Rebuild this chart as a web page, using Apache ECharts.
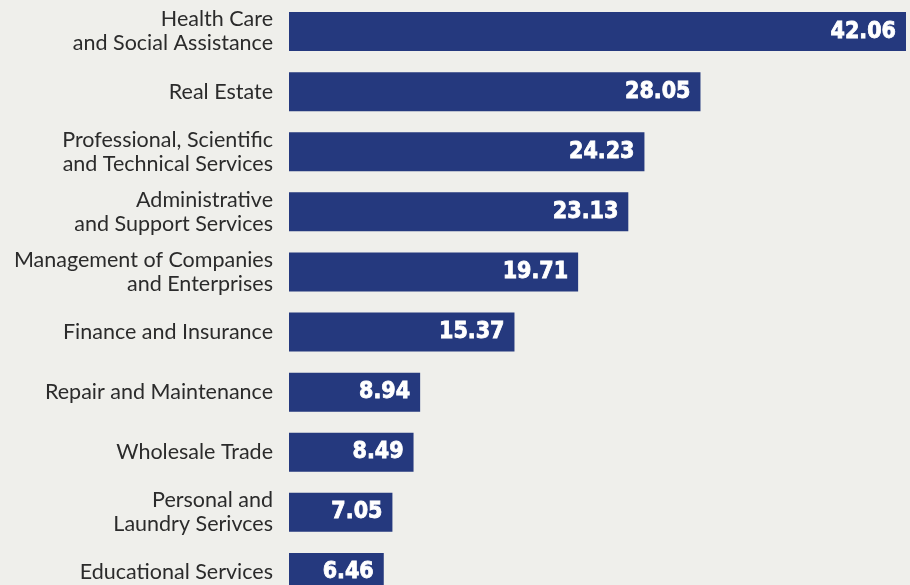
<!DOCTYPE html>
<html><head><meta charset="utf-8">
<script src="https://cdn.jsdelivr.net/npm/echarts@6/dist/echarts.min.js"></script>
<style>html,body{margin:0;padding:0;background:#efefeb;overflow:hidden;}#c{width:910px;height:606px;}</style>
</head><body><div id="c"></div>
<script>
const categories = [
  "Health Care\nand Social Assistance",
  "Real Estate",
  "Professional, Scientific\nand Technical Services",
  "Administrative\nand Support Services",
  "Management of Companies\nand Enterprises",
  "Finance and Insurance",
  "Repair and Maintenance",
  "Wholesale Trade",
  "Personal and\nLaundry Serivces",
  "Educational Services"
];
const values = [42.06, 28.05, 24.23, 23.13, 19.71, 15.37, 8.94, 8.49, 7.05, 6.46];

const chart = echarts.init(document.getElementById('c'));
chart.setOption({
  backgroundColor: '#efefeb',
  animation: false,
  grid: { left: 289, top: 1.5, width: 617, height: 601 },
  xAxis: { type: 'value', min: 0, max: 42.06, show: false },
  yAxis: {
    type: 'category', data: categories, inverse: true,
    axisLine: { show: false }, axisTick: { show: false },
    axisLabel: { color: '#2b2b2b', fontSize: 21.5, lineHeight: 24, margin: 16, fontFamily: 'Lato, "Noto Sans", sans-serif', align: 'right' }
  },
  series: [{
    type: 'bar', data: values, barWidth: 39,
    itemStyle: { color: '#25397e' },
    label: {
      show: true, position: 'insideRight', distance: 10,
      color: '#ffffff', fontSize: 23, fontWeight: 'bold',
      textBorderColor: '#ffffff', textBorderWidth: 0.8,
      fontFamily: '"DejaVu Sans Condensed", "Liberation Sans Narrow", sans-serif',
      formatter: p => p.value.toFixed(2)
    }
  }]
});
</script></body></html>
